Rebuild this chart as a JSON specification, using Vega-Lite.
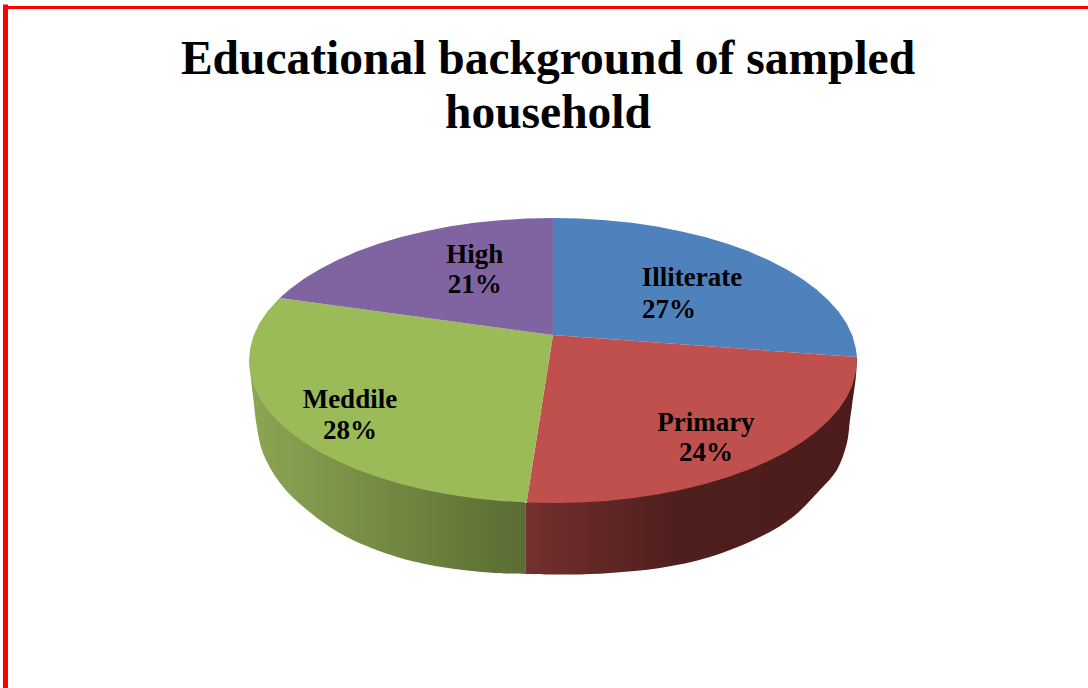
{
"$schema":"https://vega.github.io/schema/vega-lite/v6.json",
"width":1088,"height":688,"padding":0,"autosize":{"type":"none"},
"background":"white",
"config":{"view":{"stroke":null}},
"title":{"text":["Educational background of sampled","household"],"font":"Liberation Serif","fontSize":47.5,"fontWeight":"bold","color":"#000000","lineHeight":54,"anchor":"middle","frame":"group","dx":4,"dy":141},
"datasets":{
"walls":[
{"wall":"Primary","seq":1,"x":1.0,"y":0.018},{"wall":"Primary","seq":2,"x":0.997,"y":-0.102},{"wall":"Primary","seq":3,"x":0.984,"y":-0.312},{"wall":"Primary","seq":4,"x":0.977,"y":-0.418},{"wall":"Primary","seq":5,"x":0.967,"y":-0.579},{"wall":"Primary","seq":6,"x":0.934,"y":-0.768},{"wall":"Primary","seq":7,"x":0.878,"y":-0.909},{"wall":"Primary","seq":8,"x":0.789,"y":-1.098},{"wall":"Primary","seq":9,"x":0.681,"y":-1.239},{"wall":"Primary","seq":10,"x":0.516,"y":-1.379},{"wall":"Primary","seq":11,"x":0.352,"y":-1.456},{"wall":"Primary","seq":12,"x":0.188,"y":-1.491},{"wall":"Primary","seq":13,"x":0.056,"y":-1.502},{"wall":"Primary","seq":14,"x":-0.089,"y":-1.498},{"wall":"Primary","seq":15,"x":-0.089,"y":-1.498},{"wall":"Primary","seq":16,"x":-0.089,"y":-1.0},{"wall":"Primary","seq":17,"x":-0.089,"y":-1.0},
{"wall":"Meddile","seq":1,"x":-0.089,"y":-1.0},{"wall":"Meddile","seq":2,"x":-0.089,"y":-1.0},{"wall":"Meddile","seq":3,"x":-0.089,"y":-1.498},{"wall":"Meddile","seq":4,"x":-0.089,"y":-1.498},{"wall":"Meddile","seq":5,"x":-0.191,"y":-1.491},{"wall":"Meddile","seq":6,"x":-0.296,"y":-1.47},{"wall":"Meddile","seq":7,"x":-0.405,"y":-1.435},{"wall":"Meddile","seq":8,"x":-0.513,"y":-1.379},{"wall":"Meddile","seq":9,"x":-0.678,"y":-1.239},{"wall":"Meddile","seq":10,"x":-0.809,"y":-1.049},{"wall":"Meddile","seq":11,"x":-0.898,"y":-0.86},{"wall":"Meddile","seq":12,"x":-0.954,"y":-0.649},{"wall":"Meddile","seq":13,"x":-0.974,"y":-0.467},{"wall":"Meddile","seq":14,"x":-0.987,"y":-0.242},{"wall":"Meddile","seq":15,"x":-1.0,"y":0.004}
],
"slices":[
{"slice":"Illiterate","seq":0,"x":0,"y":0.179},{"slice":"Illiterate","seq":1,"x":0,"y":1},{"slice":"Illiterate","seq":2,"x":0.087,"y":0.996},{"slice":"Illiterate","seq":3,"x":0.174,"y":0.985},{"slice":"Illiterate","seq":4,"x":0.259,"y":0.966},{"slice":"Illiterate","seq":5,"x":0.342,"y":0.94},{"slice":"Illiterate","seq":6,"x":0.423,"y":0.906},{"slice":"Illiterate","seq":7,"x":0.5,"y":0.866},{"slice":"Illiterate","seq":8,"x":0.574,"y":0.819},{"slice":"Illiterate","seq":9,"x":0.643,"y":0.766},{"slice":"Illiterate","seq":10,"x":0.707,"y":0.707},{"slice":"Illiterate","seq":11,"x":0.766,"y":0.643},{"slice":"Illiterate","seq":12,"x":0.819,"y":0.574},{"slice":"Illiterate","seq":13,"x":0.866,"y":0.5},{"slice":"Illiterate","seq":14,"x":0.906,"y":0.423},{"slice":"Illiterate","seq":15,"x":0.94,"y":0.342},{"slice":"Illiterate","seq":16,"x":0.966,"y":0.259},{"slice":"Illiterate","seq":17,"x":0.985,"y":0.174},{"slice":"Illiterate","seq":18,"x":0.996,"y":0.087},{"slice":"Illiterate","seq":19,"x":1.0,"y":0.024},
{"slice":"Primary","seq":0,"x":0,"y":0.179},{"slice":"Primary","seq":1,"x":1.0,"y":0.024},{"slice":"Primary","seq":2,"x":0.996,"y":-0.087},{"slice":"Primary","seq":3,"x":0.985,"y":-0.174},{"slice":"Primary","seq":4,"x":0.966,"y":-0.259},{"slice":"Primary","seq":5,"x":0.94,"y":-0.342},{"slice":"Primary","seq":6,"x":0.906,"y":-0.423},{"slice":"Primary","seq":7,"x":0.866,"y":-0.5},{"slice":"Primary","seq":8,"x":0.819,"y":-0.574},{"slice":"Primary","seq":9,"x":0.766,"y":-0.643},{"slice":"Primary","seq":10,"x":0.707,"y":-0.707},{"slice":"Primary","seq":11,"x":0.643,"y":-0.766},{"slice":"Primary","seq":12,"x":0.574,"y":-0.819},{"slice":"Primary","seq":13,"x":0.5,"y":-0.866},{"slice":"Primary","seq":14,"x":0.423,"y":-0.906},{"slice":"Primary","seq":15,"x":0.342,"y":-0.94},{"slice":"Primary","seq":16,"x":0.259,"y":-0.966},{"slice":"Primary","seq":17,"x":0.174,"y":-0.985},{"slice":"Primary","seq":18,"x":0.087,"y":-0.996},{"slice":"Primary","seq":19,"x":0,"y":-1},{"slice":"Primary","seq":20,"x":-0.087,"y":-0.996},
{"slice":"Meddile","seq":0,"x":0,"y":0.179},{"slice":"Meddile","seq":1,"x":-0.087,"y":-0.996},{"slice":"Meddile","seq":2,"x":-0.174,"y":-0.985},{"slice":"Meddile","seq":3,"x":-0.259,"y":-0.966},{"slice":"Meddile","seq":4,"x":-0.342,"y":-0.94},{"slice":"Meddile","seq":5,"x":-0.423,"y":-0.906},{"slice":"Meddile","seq":6,"x":-0.5,"y":-0.866},{"slice":"Meddile","seq":7,"x":-0.574,"y":-0.819},{"slice":"Meddile","seq":8,"x":-0.643,"y":-0.766},{"slice":"Meddile","seq":9,"x":-0.707,"y":-0.707},{"slice":"Meddile","seq":10,"x":-0.766,"y":-0.643},{"slice":"Meddile","seq":11,"x":-0.819,"y":-0.574},{"slice":"Meddile","seq":12,"x":-0.866,"y":-0.5},{"slice":"Meddile","seq":13,"x":-0.906,"y":-0.423},{"slice":"Meddile","seq":14,"x":-0.94,"y":-0.342},{"slice":"Meddile","seq":15,"x":-0.966,"y":-0.259},{"slice":"Meddile","seq":16,"x":-0.985,"y":-0.174},{"slice":"Meddile","seq":17,"x":-0.996,"y":-0.087},{"slice":"Meddile","seq":18,"x":-1,"y":0},{"slice":"Meddile","seq":19,"x":-0.996,"y":0.087},{"slice":"Meddile","seq":20,"x":-0.985,"y":0.174},{"slice":"Meddile","seq":21,"x":-0.966,"y":0.259},{"slice":"Meddile","seq":22,"x":-0.94,"y":0.342},{"slice":"Meddile","seq":23,"x":-0.906,"y":0.423},{"slice":"Meddile","seq":24,"x":-0.899,"y":0.438},
{"slice":"High","seq":0,"x":0,"y":0.179},{"slice":"High","seq":1,"x":-0.899,"y":0.438},{"slice":"High","seq":2,"x":-0.866,"y":0.5},{"slice":"High","seq":3,"x":-0.819,"y":0.574},{"slice":"High","seq":4,"x":-0.766,"y":0.643},{"slice":"High","seq":5,"x":-0.707,"y":0.707},{"slice":"High","seq":6,"x":-0.643,"y":0.766},{"slice":"High","seq":7,"x":-0.574,"y":0.819},{"slice":"High","seq":8,"x":-0.5,"y":0.866},{"slice":"High","seq":9,"x":-0.423,"y":0.906},{"slice":"High","seq":10,"x":-0.342,"y":0.94},{"slice":"High","seq":11,"x":-0.259,"y":0.966},{"slice":"High","seq":12,"x":-0.174,"y":0.985},{"slice":"High","seq":13,"x":-0.087,"y":0.996},{"slice":"High","seq":14,"x":0,"y":1}
],
"labels":[
{"text":"High","x":-0.257,"y":0.744},{"text":"21%","x":-0.257,"y":0.527},
{"text":"Illiterate","x":0.457,"y":0.576},{"text":"27%","x":0.382,"y":0.358},
{"text":"Primary","x":0.503,"y":-0.435},{"text":"24%","x":0.503,"y":-0.652},
{"text":"Meddile","x":-0.668,"y":-0.28},{"text":"28%","x":-0.668,"y":-0.498}
],
"frame":[
{"edge":"left","x":-1.801,"y":2.498,"y2":-2.298},
{"edge":"top","x":-1.809,"x2":1.76,"y":2.477}
]
},
"encoding":{
"x":{"field":"x","type":"quantitative","axis":null,"scale":{"domain":[-1.819,1.76],"nice":false,"zero":false}},
"y":{"field":"y","type":"quantitative","axis":null,"scale":{"domain":[-2.298,2.53],"nice":false,"zero":false}}
},
"layer":[
{"data":{"name":"walls"},"transform":[{"filter":"datum.wall === 'Primary'"}],
 "mark":{"type":"line","interpolate":"catmull-rom","strokeWidth":0,"fill":{"gradient":"linear","x1":0,"y1":0,"x2":1,"y2":0,"stops":[{"offset":0,"color":"#74302e"},{"offset":0.45,"color":"#4f1f1e"},{"offset":1,"color":"#4b1c1b"}]}},
 "encoding":{"order":{"field":"seq","type":"quantitative"}}},
{"data":{"name":"walls"},"transform":[{"filter":"datum.wall === 'Meddile'"}],
 "mark":{"type":"line","interpolate":"catmull-rom","strokeWidth":0,"fill":{"gradient":"linear","x1":0,"y1":0,"x2":1,"y2":0,"stops":[{"offset":0,"color":"#8ca653"},{"offset":1,"color":"#5a6c33"}]}},
 "encoding":{"order":{"field":"seq","type":"quantitative"}}},
{"data":{"name":"slices"},
 "mark":{"type":"line","strokeWidth":0},
 "encoding":{
  "fill":{"field":"slice","type":"nominal","legend":null,"scale":{"domain":["Illiterate","Primary","Meddile","High"],"range":["#4f81bd","#c0504d","#9bbb59","#8064a2"]}},
  "detail":{"field":"slice"},
  "order":{"field":"seq","type":"quantitative"}}},
{"data":{"name":"labels"},
 "mark":{"type":"text","font":"Liberation Serif","fontWeight":"bold","fontSize":27,"color":"#000000","baseline":"middle","align":"center"},
 "encoding":{"text":{"field":"text"}}},
{"data":{"name":"frame"},"transform":[{"filter":"datum.edge === 'left'"}],
 "mark":{"type":"rule","color":"#ff0000","strokeWidth":5},
 "encoding":{"y2":{"field":"y2"}}},
{"data":{"name":"frame"},"transform":[{"filter":"datum.edge === 'top'"}],
 "mark":{"type":"rule","color":"#ff0000","strokeWidth":3},
 "encoding":{"x2":{"field":"x2"}}}
]
}
